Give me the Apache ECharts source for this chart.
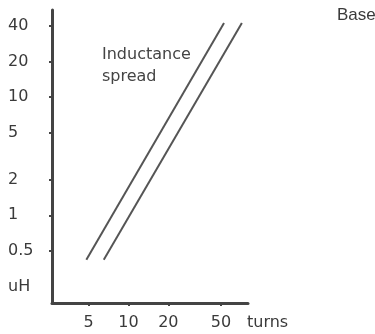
<!DOCTYPE html>
<html>
<head>
<meta charset="utf-8">
<script src="https://cdn.jsdelivr.net/npm/echarts@6/dist/echarts.min.js"></script>
<style>
  html, body { margin: 0; padding: 0; background: #fff; }
  #chart { width: 375px; height: 334px; }
</style>
</head>
<body>
<div id="chart"></div>
<script>
// tick values on both log axes
const turnTicks = [5, 10, 20, 50];
const uhTicks = [0.5, 1, 2, 5, 10, 20, 40];

// the two parallel lines bounding the spread: [turns, uH]
const lowerTurns = [4.8, 52.7];
const upperTurns = [6.5, 71.9];
const lineUH = [0.42, 42.4];

const ink = '#444';
const font = '"DejaVu Sans", Verdana, sans-serif';

const chart = echarts.init(document.getElementById('chart'));

function pairs(xs, ys) {
  return xs.map((x, i) => [x, ys[i]]);
}

chart.setOption({
  animation: false,
  grid: { left: 52, right: 127, top: 10, bottom: 31 },
  xAxis: {
    type: 'log',
    min: 2.64,
    max: 80,
    axisLine: { lineStyle: { color: ink, width: 3 } },
    axisTick: { show: true, length: 3, customValues: turnTicks, lineStyle: { color: ink, width: 2 } },
    axisLabel: {
      customValues: turnTicks,
      margin: 12,
      color: '#3a3a3a',
      fontSize: 16,
      fontFamily: font,
    },
    splitLine: { show: false },
    minorTick: { show: false },
  },
  yAxis: {
    type: 'log',
    min: 0.181,
    max: 54.7,
    axisLine: { show: true, lineStyle: { color: ink, width: 3 } },
    axisTick: { show: true, length: 3, customValues: uhTicks, lineStyle: { color: ink, width: 2 } },
    axisLabel: {
      customValues: uhTicks,
      align: 'left',
      margin: 44,
      color: '#3a3a3a',
      fontSize: 16,
      fontFamily: font,
    },
    splitLine: { show: false },
  },
  series: [
    {
      type: 'line',
      data: pairs(lowerTurns, lineUH),
      symbol: 'none',
      lineStyle: { color: '#555', width: 2 },
    },
    {
      type: 'line',
      data: pairs(upperTurns, lineUH),
      symbol: 'none',
      lineStyle: { color: '#555', width: 2 },
    },
  ],
  graphic: [
    {
      type: 'text', left: 102, top: 44,
      style: { text: 'Inductance\nspread', fill: '#444', font: '16px ' + font, lineHeight: 22 },
    },
    {
      type: 'text', left: 8, top: 279,
      style: { text: 'uH', fill: '#3a3a3a', font: '16px ' + font },
    },
    {
      type: 'text', left: 247, top: 315,
      style: { text: 'turns', fill: '#3a3a3a', font: '16px ' + font },
    },
    {
      type: 'text', left: 337, top: 7,
      style: { text: 'Base', fill: '#3a3a3a', font: '17px "Liberation Sans", Arial, sans-serif' },
    },
  ],
});
</script>
</body>
</html>
